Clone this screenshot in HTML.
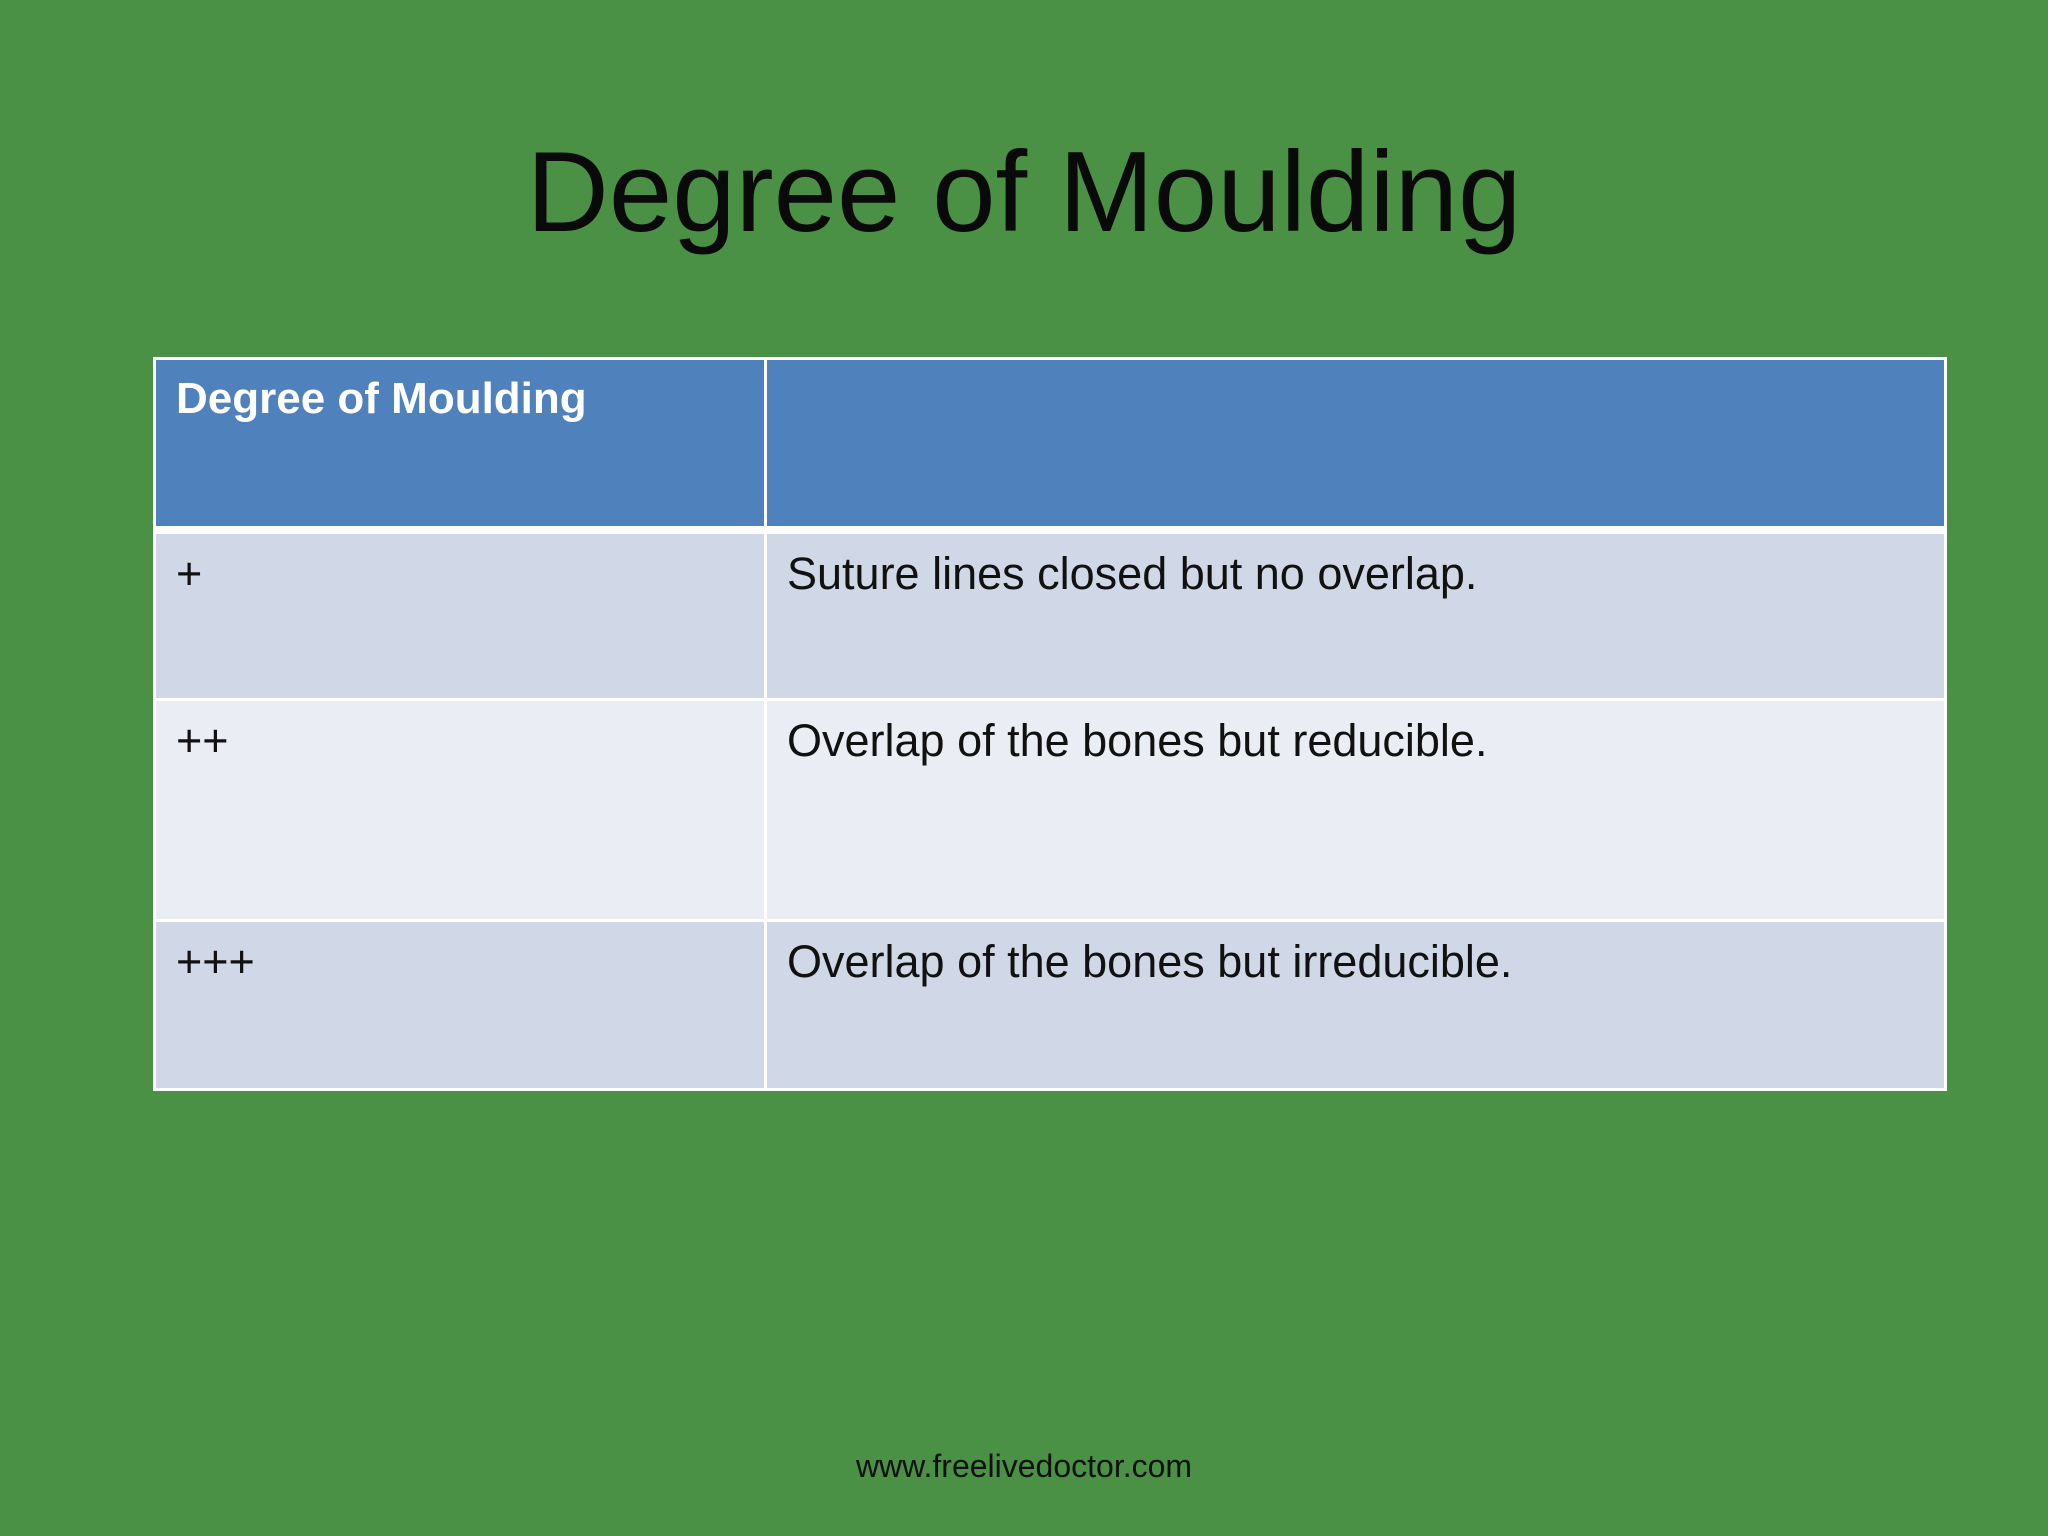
<!DOCTYPE html>
<html><head><meta charset="utf-8"><style>
html,body{margin:0;padding:0;}
body{width:2048px;height:1536px;background:#4a9146;position:relative;overflow:hidden;font-family:"Liberation Sans",sans-serif;}
.title{position:absolute;left:0;width:2048px;top:136px;text-align:center;font-size:114px;color:#0a0a0a;line-height:1;}
table{position:absolute;left:153px;top:357px;width:1794px;border-collapse:collapse;}
td{border:3px solid #fff;vertical-align:top;padding:14px 20px;font-size:45px;color:#111;}
.h td{background:#4f81bd;height:138px;color:#fff;font-weight:bold;font-size:44px;border-bottom:8px solid #fff;padding-top:14px;}
.r1 td{background:#d0d8e8;height:136px;}
.r2 td{background:#eaedf4;height:190px;}
.r3 td{background:#d0d8e8;height:138px;}
.c1{width:568px;}
.foot{position:absolute;left:0;width:2048px;top:1448px;text-align:center;font-size:32px;color:#111;}
</style></head><body>
<div class="title">Degree of Moulding</div>
<table>
<tr class="h"><td class="c1">Degree of Moulding</td><td></td></tr>
<tr class="r1"><td class="c1">+</td><td>Suture lines closed but no overlap.</td></tr>
<tr class="r2"><td class="c1">++</td><td>Overlap of the bones but reducible.</td></tr>
<tr class="r3"><td class="c1">+++</td><td>Overlap of the bones but irreducible.</td></tr>
</table>
<div class="foot">www.freelivedoctor.com</div>
</body></html>
